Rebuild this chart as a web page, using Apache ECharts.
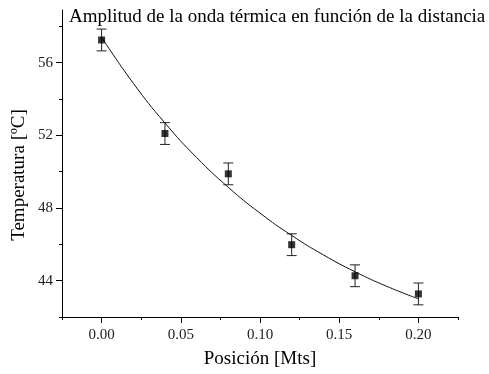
<!DOCTYPE html>
<html>
<head>
<meta charset="utf-8">
<script src="https://cdn.jsdelivr.net/npm/echarts@6/dist/echarts.min.js"></script>
<style>html,body{margin:0;padding:0;background:#fff}#c{width:489px;height:374px}</style>
</head>
<body>
<div id="c"></div>
<script>
// Measured data points
var posX = [0.00, 0.04, 0.08, 0.12, 0.16, 0.20];
var tempY = [57.25, 52.1, 49.88, 45.98, 44.27, 43.27];
var tempErr = [0.6, 0.6, 0.6, 0.6, 0.6, 0.6];
// Fitted curve
var fitX = [0.00, 0.02, 0.04, 0.06, 0.08, 0.10, 0.12, 0.14, 0.16, 0.18, 0.20];
var fitY = [57.40, 54.87, 52.68, 50.78, 49.14, 47.72, 46.49, 45.42, 44.49, 43.69, 43.00];
// Tick values
var xMajorTicks = [0.00, 0.05, 0.10, 0.15, 0.20];
var xMinorTicks = [-0.025, 0.025, 0.075, 0.125, 0.175, 0.225];
var yMajorTicks = [44, 48, 52, 56];
var yMinorTicks = [42, 46, 50, 54, 58];

var FONT = '"Liberation Serif", "Times New Roman", serif';
var chart = echarts.init(document.getElementById('c'));

var pts = posX.map(function (x, i) { return [x, tempY[i]]; });
var errData = posX.map(function (x, i) { return [x, tempY[i] - tempErr[i], tempY[i] + tempErr[i]]; });
var fitData = fitX.map(function (x, i) { return [x, fitY[i]]; });

var grid = { left: 62, right: 31, top: 10, bottom: 57 };
var xBase = { type: 'value', min: -0.025, max: 0.225, position: 'bottom', splitLine: { show: false } };
var yBase = { type: 'value', min: 42, max: 58.9, position: 'left', splitLine: { show: false } };

chart.setOption({
  animation: false,
  title: {
    text: 'Amplitud de la onda térmica en función de la distancia',
    left: 64, top: 3,
    textStyle: { fontFamily: FONT, fontSize: 19, fontWeight: 'normal', color: '#000' }
  },
  grid: grid,
  xAxis: [
    Object.assign({}, xBase, {
      axisLine: { show: true, onZero: false, lineStyle: { color: '#000', width: 1 } },
      axisTick: { show: true, length: 6, inside: false, customValues: xMajorTicks, lineStyle: { color: '#000' } },
      axisLabel: { customValues: xMajorTicks, margin: 11, fontFamily: FONT, fontSize: 15, color: '#222',
        formatter: function (v) { return v.toFixed(2); } },
      name: 'Posición [Mts]', nameLocation: 'middle', nameGap: 33,
      nameTextStyle: { fontFamily: FONT, fontSize: 19, color: '#000' }
    }),
    Object.assign({}, xBase, {
      axisLine: { show: false, onZero: false },
      axisTick: { show: true, length: 3, customValues: xMinorTicks, lineStyle: { color: '#000' } },
      axisLabel: { show: false }
    })
  ],
  yAxis: [
    Object.assign({}, yBase, {
      axisLine: { show: true, onZero: false, lineStyle: { color: '#000', width: 1 } },
      axisTick: { show: true, length: 6, customValues: yMajorTicks, lineStyle: { color: '#000' } },
      axisLabel: { customValues: yMajorTicks, margin: 9, fontFamily: FONT, fontSize: 15, color: '#222' }
    }),
    Object.assign({}, yBase, {
      offset: 0,
      axisLine: { show: false, onZero: false },
      axisTick: { show: true, length: 3, customValues: yMinorTicks, lineStyle: { color: '#000' } },
      axisLabel: { show: false }
    })
  ],
  graphic: [{
    type: 'text', x: 19, y: 175, rotation: Math.PI / 2,
    style: { text: 'Temperatura [ºC]', font: '19px ' + FONT, fill: '#000',
      textAlign: 'center', textVerticalAlign: 'middle' }
  }],
  series: [
    {
      type: 'line', data: fitData, smooth: true, showSymbol: false, symbol: 'none',
      lineStyle: { color: '#111', width: 1 }, z: 2
    },
    {
      type: 'custom', data: errData, z: 3,
      renderItem: function (params, api) {
        var x = api.value(0);
        var lo = api.coord([x, api.value(1)]);
        var hi = api.coord([x, api.value(2)]);
        var hw = 5;
        var st = { stroke: '#222', lineWidth: 1 };
        return { type: 'group', children: [
          { type: 'line', shape: { x1: lo[0], y1: lo[1], x2: hi[0], y2: hi[1] }, style: st },
          { type: 'line', shape: { x1: lo[0] - hw, y1: lo[1], x2: lo[0] + hw, y2: lo[1] }, style: st },
          { type: 'line', shape: { x1: hi[0] - hw, y1: hi[1], x2: hi[0] + hw, y2: hi[1] }, style: st }
        ]};
      }
    },
    {
      type: 'scatter', data: pts, symbol: 'rect', symbolSize: 7, z: 4,
      itemStyle: { color: '#000' }
    }
  ]
});
</script>
</body>
</html>
